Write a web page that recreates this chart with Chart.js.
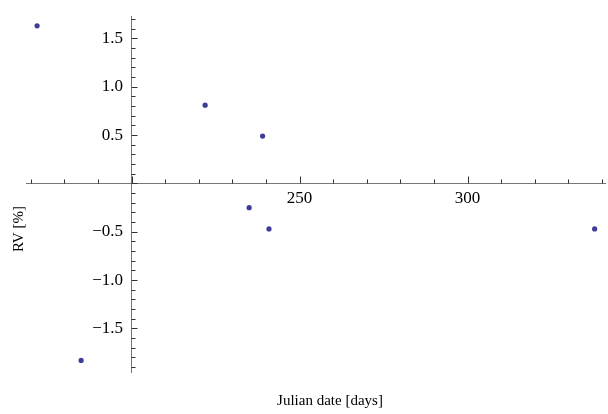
<!DOCTYPE html>
<html>
<head>
<meta charset="utf-8">
<script src="https://cdn.jsdelivr.net/npm/chart.js@4/dist/chart.umd.min.js"></script>
<style>
  html, body { margin: 0; padding: 0; background: #fff; }
  #wrap { width: 608px; height: 414px; position: relative; }
</style>
</head>
<body>
<div id="wrap"><canvas id="rvChart" width="608" height="414"></canvas></div>
<script>
// Data
var julianDays = [171.9, 185.0, 221.9, 239.0, 235.0, 240.9, 337.8];
var rvPercent  = [1.63, -1.83, 0.81, 0.49, -0.25, -0.47, -0.47];

// Tick labels shown on the axes
var xTickLabels = [250, 300];
var yTickLabels = [-1.5, -1.0, -0.5, 0.5, 1.0, 1.5];

var xTitle = 'Julian date [days]';
var yTitle = 'RV [%]';

var points = julianDays.map(function (d, i) { return { x: d, y: rvPercent[i] }; });

var serif = '"Liberation Serif", "DejaVu Serif", serif';

function fmtY(v) {
  var s = Math.abs(v).toFixed(1);
  return (v < 0 ? '\u2212' + s : s) + '\u2002';
}

// Mathematica style tick marks (minor + major) and axis titles
var axisExtras = {
  id: 'axisExtras',
  afterDraw: function (chart) {
    var ctx = chart.ctx;
    var xs = chart.scales.x, ys = chart.scales.y;
    var x0 = xs.getPixelForValue(200);
    var y0 = ys.getPixelForValue(0);
    ctx.save();
    ctx.strokeStyle = '#333';
    ctx.lineWidth = 1;
    xs.ticks.forEach(function (t) {
      var major = Math.round(t.value) % 50 === 0;
      var px = Math.round(xs.getPixelForValue(t.value)) + 0.5;
      ctx.beginPath();
      ctx.moveTo(px, y0);
      ctx.lineTo(px, y0 - (major ? 7 : 4));
      ctx.stroke();
    });
    ys.ticks.forEach(function (t) {
      var v = Math.round(t.value * 10);
      var major = v % 5 === 0;
      var py = Math.round(ys.getPixelForValue(t.value)) + 0.5;
      ctx.beginPath();
      ctx.moveTo(x0, py);
      ctx.lineTo(x0 + (major ? 6 : 4), py);
      ctx.stroke();
    });

    ctx.fillStyle = '#000';
    ctx.font = '15px ' + serif;
    ctx.textAlign = 'center';
    ctx.textBaseline = 'middle';
    ctx.fillText(xTitle, 330, 401);
    ctx.translate(19, 229);
    ctx.rotate(-Math.PI / 2);
    ctx.fillText(yTitle, 0, 0);
    ctx.restore();
  }
};

var ctx = document.getElementById('rvChart').getContext('2d');
new Chart(ctx, {
  type: 'scatter',
  data: {
    datasets: [{
      data: points,
      backgroundColor: '#3d3d99',
      borderColor: '#3d3d99',
      pointRadius: 2.6,
      pointHoverRadius: 2.6,
      borderWidth: 0
    }]
  },
  options: {
    responsive: false,
    animation: false,
    events: [],
    layout: { padding: { left: 26, right: 0, top: 13, bottom: 42 } },
    plugins: { legend: { display: false }, tooltip: { enabled: false } },
    scales: {
      x: {
        type: 'linear',
        position: { y: 0 },
        min: 168.6,
        max: 341,
        grid: { display: false, drawTicks: false },
        border: { display: true, color: '#777', width: 1 },
        ticks: {
          stepSize: 10,
          includeBounds: false,
          autoSkip: false,
          maxRotation: 0,
          padding: 5,
          color: '#000',
          font: { family: serif, size: 17 },
          callback: function (v) {
            var r = Math.round(v);
            return xTickLabels.indexOf(r) >= 0 ? String(r) : '';
          }
        }
      },
      y: {
        type: 'linear',
        position: { x: 200 },
        min: -1.95,
        max: 1.73,
        grid: { display: false, drawTicks: false },
        border: { display: true, color: '#777', width: 1 },
        ticks: {
          stepSize: 0.1,
          includeBounds: false,
          autoSkip: false,
          padding: 6,
          color: '#000',
          font: { family: serif, size: 17 },
          callback: function (v) {
            var r = Math.round(v * 10) / 10;
            for (var i = 0; i < yTickLabels.length; i++) {
              if (Math.abs(yTickLabels[i] - r) < 1e-6) return fmtY(r);
            }
            return '';
          }
        }
      }
    }
  },
  plugins: [axisExtras]
});
</script>
</body>
</html>
